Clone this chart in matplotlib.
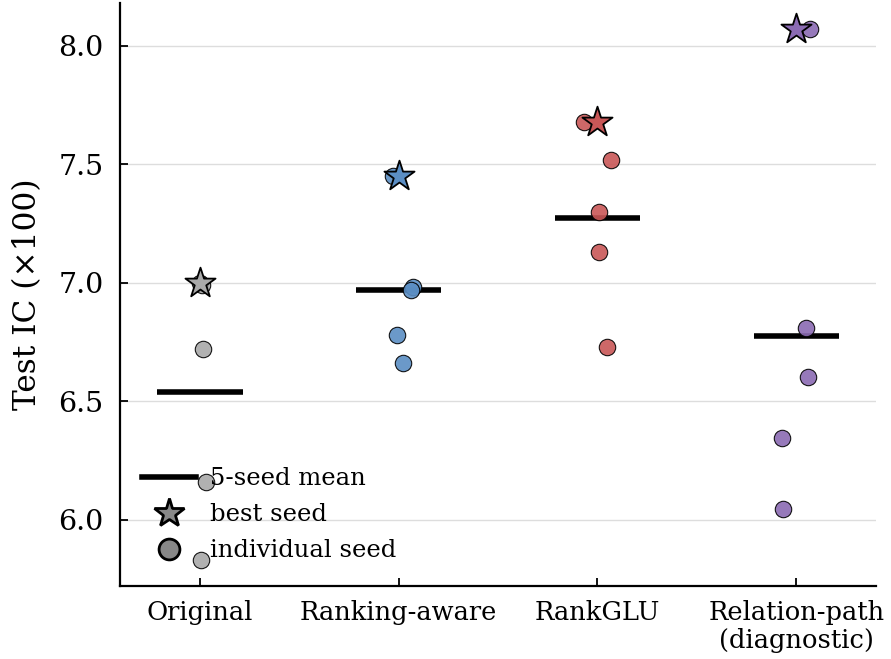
import numpy as np
import matplotlib.pyplot as plt
from matplotlib.lines import Line2D

plt.rcParams['font.family'] = 'DejaVu Serif'

# Test IC (x100) for each of the five seeds
models = ['Original', 'Ranking-aware', 'RankGLU', 'Relation-path\n(diagnostic)']
original = [7.00, 6.99, 6.72, 6.16, 5.83]
ranking_aware = [7.45, 6.98, 6.97, 6.78, 6.66]
rankglu = [7.68, 7.52, 7.30, 7.13, 6.73]
relation_path = [8.07, 6.81, 6.60, 6.345, 6.045]

# horizontal offsets so overlapping seeds stay visible
jitter = [
    [0.00, 0.01, 0.015, 0.03, 0.005],
    [-0.03, 0.07, 0.06, -0.01, 0.02],
    [-0.07, 0.07, 0.01, 0.007, 0.05],
    [0.07, 0.05, 0.06, -0.07, -0.065],
]

colors = ['#a9a9a9', '#5b8ec4', '#c95757', '#8b6bb3']
groups = [original, ranking_aware, rankglu, relation_path]

fig, ax = plt.subplots(figsize=(8.91, 6.59), dpi=100)
fig.subplots_adjust(left=0.135, right=0.983, bottom=0.111, top=0.995)

for i, (vals, col) in enumerate(zip(groups, colors)):
    vals = np.array(vals)
    xs = i + np.array(jitter[i])
    ax.scatter(xs, vals, s=140, color=col, edgecolor='black', linewidth=0.8,
               alpha=0.9, zorder=3)
    ax.hlines(vals.mean(), i - 0.215, i + 0.215, color='black', lw=4, zorder=2)
    ax.scatter(i, vals.max(), marker='*', s=520, color=col, edgecolor='black',
               linewidth=1.3, zorder=4)

ax.set_xlim(-0.4, 3.4)
ax.set_ylim(5.72, 8.18)
ax.set_xticks(range(len(models)))
ax.set_xticklabels(models, fontsize=18.5, linespacing=1.15)
ax.set_yticks([6.0, 6.5, 7.0, 7.5, 8.0])
ax.set_yticklabels(['6.0', '6.5', '7.0', '7.5', '8.0'], fontsize=20.5)
ax.set_ylabel('Test IC (×100)', fontsize=22.5, labelpad=11)
ax.tick_params(direction='in', length=6, width=1.3)
ax.tick_params(axis='y', pad=12)
ax.tick_params(axis='x', pad=10)
ax.yaxis.grid(True, color='#dddddd', lw=1.0)
ax.set_axisbelow(True)
for side in ['top', 'right']:
    ax.spines[side].set_visible(False)
for side in ['left', 'bottom']:
    ax.spines[side].set_linewidth(1.6)

handles = [
    Line2D([0], [0], color='black', lw=4),
    Line2D([0], [0], marker='*', color='none', markerfacecolor='#888888',
           markeredgecolor='black', markeredgewidth=2, markersize=22),
    Line2D([0], [0], marker='o', color='none', markerfacecolor='#888888',
           markeredgecolor='black', markeredgewidth=2, markersize=15),
]
ax.legend(handles, ['5-seed mean', 'best seed', 'individual seed'],
          loc='lower left', frameon=False, fontsize=17.5,
          bbox_to_anchor=(0.0, 0.003), handlelength=2.2, handletextpad=0.6,
          labelspacing=0.53)

fig.savefig('out.png', dpi=100)
